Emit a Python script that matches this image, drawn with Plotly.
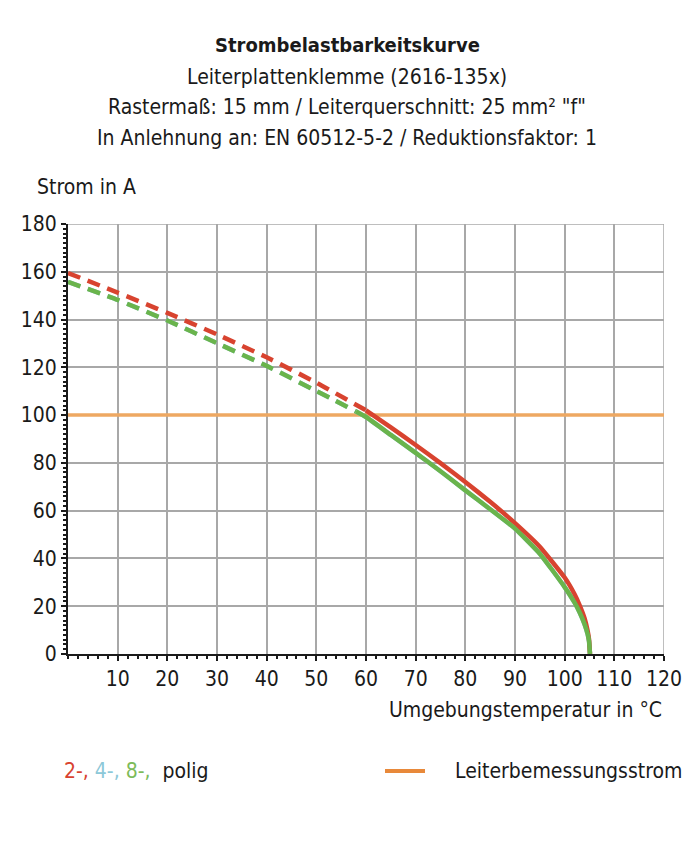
import plotly.graph_objects as go

# ---- data ----
temp_red_dash = [0, 10, 20, 30, 40, 50, 60]
cur_red_dash = [159.5, 151.3, 142.8, 133.8, 124.2, 113.6, 102.0]
temp_red_solid = [60, 65, 70, 75, 80, 85, 90, 95, 100, 102, 103, 104, 104.6, 104.9, 105.1]
cur_red_solid = [102.0, 94.9, 87.5, 79.9, 72.0, 63.7, 54.8, 44.9, 32.0, 25.0, 20.5, 15.0, 10.0, 6.3, 0.0]

temp_green_dash = [0, 10, 20, 30, 40, 50, 58]
cur_green_dash = [155.8, 148.2, 139.6, 130.1, 120.6, 110.1, 101.5]
temp_green_solid = [58, 60, 65, 70, 75, 80, 85, 90, 95, 100, 102, 103, 104, 104.6, 104.9, 105.1]
cur_green_solid = [101.5, 99.2, 91.7, 84.2, 76.5, 68.5, 60.6, 52.5, 42.0, 28.0, 21.5, 17.5, 12.5, 8.5, 5.5, 0.0]

rated_temp = [0, 120]
rated_current = [100, 100]

x_ticks = [10, 20, 30, 40, 50, 60, 70, 80, 90, 100, 110, 120]
y_ticks = [0, 20, 40, 60, 80, 100, 120, 140, 160, 180]

title_lines = [
    "<b>Strombelastbarkeitskurve</b>",
    "Leiterplattenklemme (2616-135x)",
    "Rastermaß: 15 mm / Leiterquerschnitt: 25 mm² \"f\"",
    "In Anlehnung an: EN 60512-5-2 / Reduktionsfaktor: 1",
]

RED = "#d8432f"
GREEN = "#6ab44c"
BLUE = "#8cc8d8"
ORANGE = "#eea862"
FONT = "Liberation Sans Narrow, DejaVu Sans Condensed, Roboto, sans-serif"
SPL = dict(shape="spline", smoothing=0.4)

fig = go.Figure()

fig.add_trace(go.Scatter(x=rated_temp, y=rated_current, mode="lines",
                         line=dict(color=ORANGE, width=3.5), showlegend=False))

# 4-pole (hidden under 8-pole)
fig.add_trace(go.Scatter(x=temp_green_dash, y=cur_green_dash, mode="lines",
                         line=dict(color=BLUE, width=4.5, dash="13px,8px", **SPL), showlegend=False))
fig.add_trace(go.Scatter(x=temp_green_solid, y=cur_green_solid, mode="lines",
                         line=dict(color=BLUE, width=4.5, **SPL), showlegend=False))

fig.add_trace(go.Scatter(x=temp_red_dash, y=cur_red_dash, mode="lines",
                         line=dict(color=RED, width=4.5, dash="13px,8px", **SPL), showlegend=False))
fig.add_trace(go.Scatter(x=temp_red_solid, y=cur_red_solid, mode="lines",
                         line=dict(color=RED, width=4.5, **SPL), showlegend=False))
fig.add_trace(go.Scatter(x=temp_green_dash, y=cur_green_dash, mode="lines",
                         line=dict(color=GREEN, width=4.5, dash="13px,8px", **SPL), showlegend=False))
fig.add_trace(go.Scatter(x=temp_green_solid, y=cur_green_solid, mode="lines",
                         line=dict(color=GREEN, width=4.5, **SPL), showlegend=False))

ML, MR, MT, MB = 68, 33, 224, 188
W, H = 697, 842
PH = H - MT - MB


def py(p):
    return (H - MB - p) / PH


def px(p):
    return (p - ML) / (W - ML - MR)


annotations = []
title_y = [45, 77, 107, 138]
title_sizes = [20, 21, 21, 21]
for txt, yy, fs in zip(title_lines, title_y, title_sizes):
    annotations.append(dict(text=txt, xref="paper", yref="paper", x=px(347), y=py(yy),
                            xanchor="center", yanchor="middle", showarrow=False,
                            font=dict(size=fs, color="#1a1a1a", family=FONT)))
annotations.append(dict(text="Strom in A", xref="paper", yref="paper", x=px(35), y=py(187),
                        xanchor="left", yanchor="middle", showarrow=False,
                        font=dict(size=21, color="#1a1a1a", family=FONT)))
annotations.append(dict(text="Umgebungstemperatur in °C", xref="paper", yref="paper", x=px(664), y=py(710),
                        xanchor="right", yanchor="middle", showarrow=False,
                        font=dict(size=21, color="#1a1a1a", family=FONT)))
annotations.append(dict(
    text=f"<span style='color:{RED}'>2-,</span> <span style='color:{BLUE}'>4-,</span> "
         f"<span style='color:#7dbb5a'>8-,</span>  polig",
    xref="paper", yref="paper", x=px(62), y=py(771), xanchor="left", yanchor="middle",
    showarrow=False, font=dict(size=21, color="#1a1a1a", family=FONT)))
annotations.append(dict(text="Leiterbemessungsstrom", xref="paper", yref="paper", x=px(453), y=py(771),
                        xanchor="left", yanchor="middle", showarrow=False,
                        font=dict(size=21, color="#1a1a1a", family=FONT)))

shapes = [
    dict(type="line", xref="paper", yref="paper", x0=px(385), x1=px(425), y0=py(771), y1=py(771),
         line=dict(color="#e8893a", width=4)),
    dict(type="line", xref="x", yref="y", x0=0, x1=120, y0=180, y1=180,
         line=dict(color="#a8a8a8", width=1.5), layer="below"),
    dict(type="line", xref="x", yref="y", x0=120, x1=120, y0=0, y1=180,
         line=dict(color="#a8a8a8", width=1.5), layer="below"),
]

fig.update_layout(
    width=W, height=H,
    margin=dict(l=ML, r=MR, t=MT, b=MB),
    paper_bgcolor="white", plot_bgcolor="white",
    font=dict(family=FONT, size=20, color="#1a1a1a"),
    annotations=annotations, shapes=shapes, showlegend=False,
)
fig.update_xaxes(range=[0, 120], tickvals=x_ticks, ticktext=[str(v) for v in x_ticks],
                 showgrid=True, gridcolor="#a8a8a8", gridwidth=1.5,
                 showline=True, linecolor="#1a1a1a", linewidth=2,
                 ticks="outside", ticklen=5, tickcolor="#1a1a1a", tickwidth=1.5,
                 tickfont=dict(size=21, family=FONT, color="#1a1a1a"),
                 minor=dict(dtick=2, tick0=0, ticks="outside", ticklen=3, tickcolor="#1a1a1a", showgrid=False),
                 zeroline=False, fixedrange=True, automargin=False)
fig.update_yaxes(range=[0, 180], tickvals=y_ticks, ticktext=[str(v) for v in y_ticks],
                 showgrid=True, gridcolor="#a8a8a8", gridwidth=1.5,
                 showline=True, linecolor="#1a1a1a", linewidth=2,
                 ticks="outside", ticklen=5, tickcolor="#1a1a1a", tickwidth=1.5,
                 tickfont=dict(size=21, family=FONT, color="#1a1a1a"),
                 minor=dict(dtick=2, tick0=0, ticks="outside", ticklen=3, tickcolor="#1a1a1a", showgrid=False),
                 zeroline=False, fixedrange=True, automargin=False)

fig.write_html("out.html", config={"displayModeBar": False},
               post_script="document.body.style.margin='0px';")
